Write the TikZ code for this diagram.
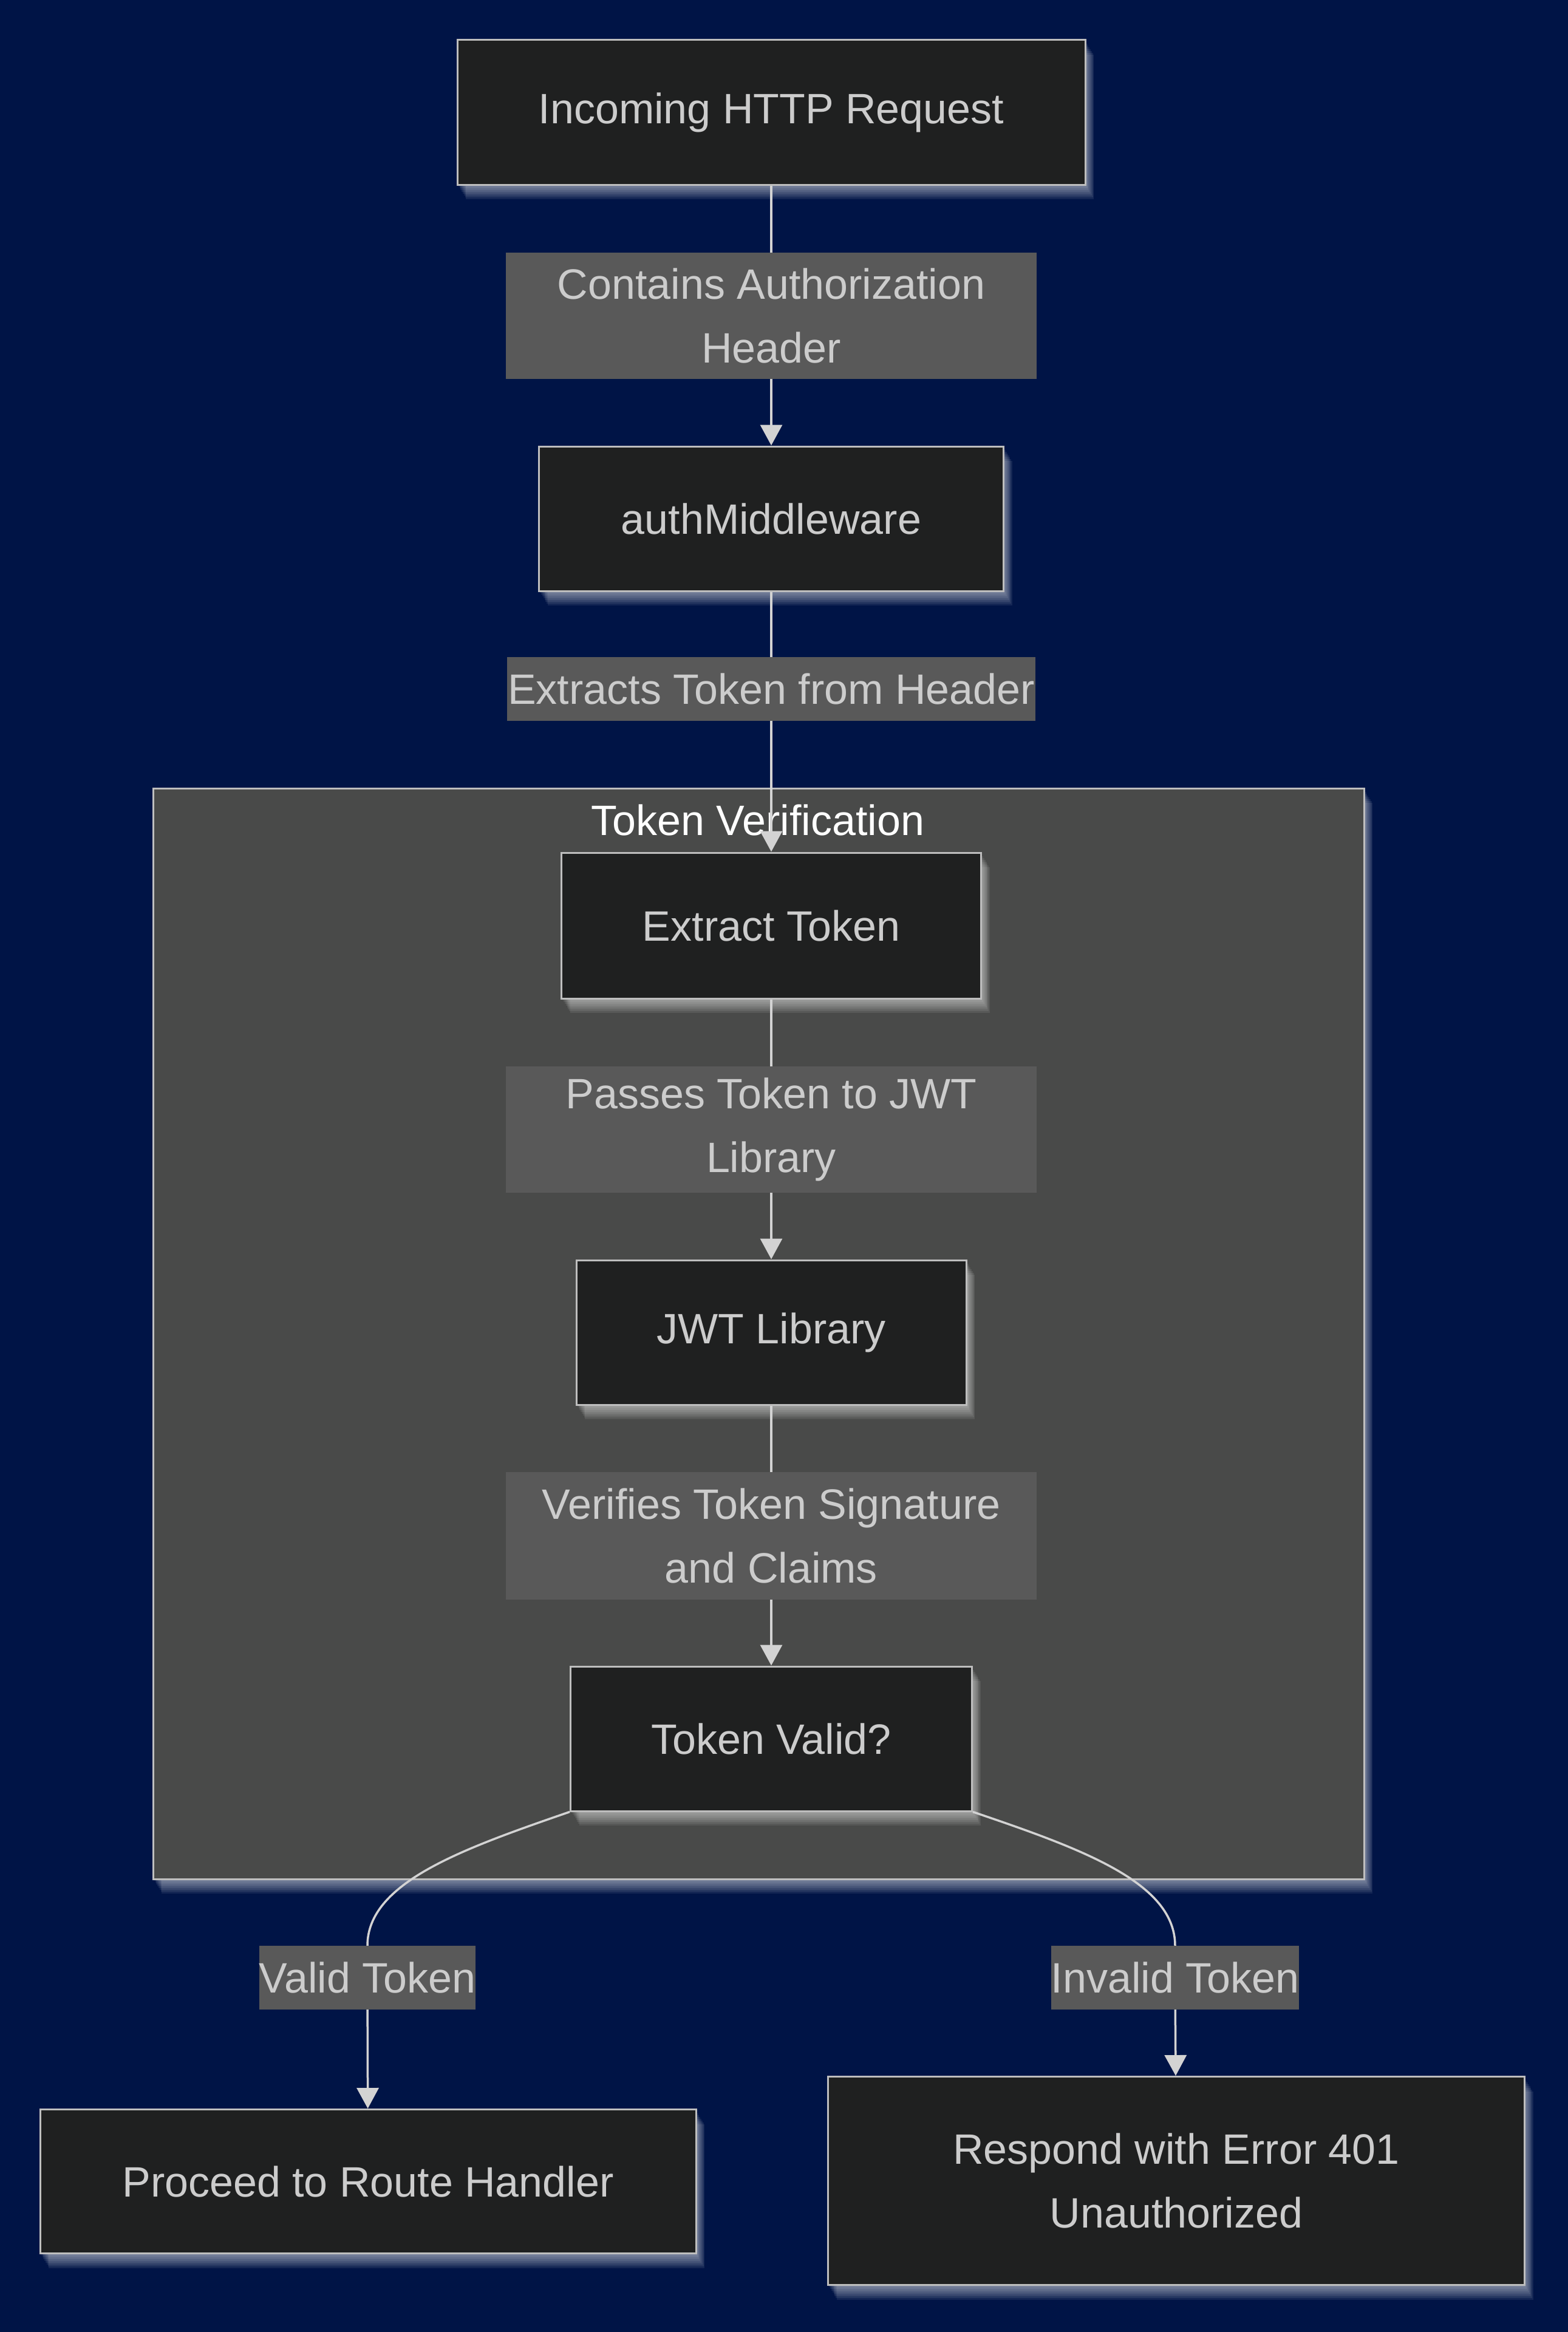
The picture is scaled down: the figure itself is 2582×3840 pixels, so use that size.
\documentclass[tikz,border=0pt]{standalone}
\usepackage{fontspec}
\setmainfont{Liberation Sans}
\usetikzlibrary{positioning, arrows.meta, shadows}

\definecolor{bgcol}{RGB}{0,20,70}
\definecolor{boxfill}{RGB}{31,32,32}
\definecolor{boxline}{RGB}{190,190,190}
\definecolor{lblfill}{RGB}{89,89,89}
\definecolor{clusterfill}{RGB}{73,74,73}
\definecolor{txtcol}{RGB}{204,204,204}
\definecolor{linecol}{RGB}{211,211,211}

\begin{document}
\begin{tikzpicture}[x=1pt, y=-1pt]
  \newcommand\rankgap{428pt}
  \newcommand\flowfont{\fontsize{70}{105}\selectfont}

  \tikzset{glowstep/.style={general shadow={fill=white, opacity=0.08, shadow xshift=#1*0.9pt, shadow yshift=-#1*1.5pt}}}
  \tikzset{glow/.style={glowstep=16, glowstep=14, glowstep=12, glowstep=10, glowstep=8, glowstep=6, glowstep=4, glowstep=2}}
  \tikzset{flowbox/.style={draw=boxline, line width=3pt, fill=boxfill, text=txtcol, align=center, inner sep=0pt, font=\flowfont, minimum height=238pt, glow}}
  \tikzset{edgelbl/.style={fill=lblfill, text=txtcol, align=center, inner sep=0pt, font=\flowfont, minimum height=105pt}}
  \tikzset{ptr/.style={draw=linecol, line width=3.5pt, -{Triangle[length=34pt, width=36pt]}}}
  \tikzset{clusterbox/.style={draw=boxline, line width=3pt, fill=clusterfill, glow}}

  % canvas
  \useasboundingbox[fill=bgcol] (0,0) rectangle (2582,3840);

  % token verification cluster
  \draw[clusterbox] (252,1298) rectangle (2246,3094);
  \node[text=white, font=\flowfont] (vtitle) at (1248,1350) {Token Verification};

  % main column
  \node[flowbox, minimum width=1034pt] at (1270,185) (inc) {Incoming HTTP Request};
  \node[flowbox, minimum width=765pt, below=\rankgap of inc] (auth) {authMiddleware};
  \node[flowbox, minimum width=691pt, minimum height=240pt, below=\rankgap of auth] (extract) {Extract Token};
  \node[flowbox, minimum width=642pt, below=\rankgap of extract] (jwt) {JWT Library};
  \node[flowbox, minimum width=661pt, below=\rankgap of jwt] (tv) {Token Valid?};

  % outcomes
  \node[flowbox, minimum width=1080pt, minimum height=237pt] at (606,3592) (proceed) {Proceed to Route Handler};
  \node[flowbox, minimum width=1147pt, minimum height=343pt] at (1937,3591) (respond) {Respond with Error 401\\Unauthorized};

  \draw[ptr] (inc) -- node[edgelbl, minimum width=874pt, minimum height=208pt] {Contains Authorization\\Header} (auth);
  \draw[ptr] (auth) -- node[edgelbl, minimum width=870pt, pos=0.374] {Extracts Token from Header} (extract);
  \draw[ptr] (extract) -- node[edgelbl, minimum width=874pt, minimum height=208pt] {Passes Token to JWT\\Library} (jwt);
  \draw[ptr] (jwt) -- node[edgelbl, minimum width=874pt, minimum height=210pt] {Verifies Token Signature\\and Claims} (tv);
  \draw[ptr] (tv.south west) .. controls (760,3045) and (605,3100) .. (605,3204)
    -- (605,3256) node[edgelbl, minimum width=352pt] {Valid Token} -- (proceed);
  \draw[ptr] (tv.south east) .. controls (1783,3045) and (1935,3100) .. (1935,3204)
    -- (1935,3256) node[edgelbl, minimum width=407pt] {Invalid Token} -- (respond);
\end{tikzpicture}
\end{document}
